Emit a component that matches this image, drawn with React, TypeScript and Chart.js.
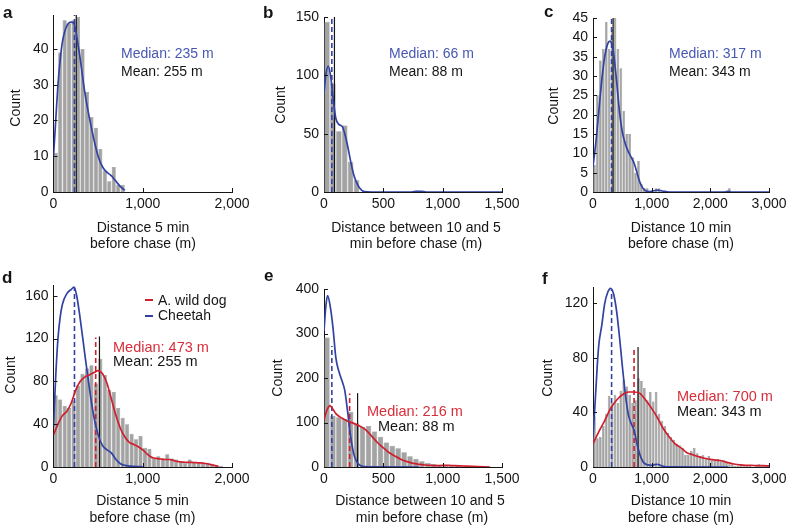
import React, { useEffect, useRef } from 'react';
import { Chart, registerables } from 'chart.js';

Chart.register(...registerables);

const FONT = "'Liberation Sans', Arial, Helvetica, sans-serif";
Chart.defaults.font.family = FONT;
Chart.defaults.color = '#1a1a1a';

const BIN = 50;

// ---------- Panel a (cheetah, 5 min) ----------
const aCounts = [11, 39, 48, 47, 48, 49, 40, 28, 21, 18, 12, 6, 3, 7, 2, 2];
const aCheetahX = [0, 25, 50, 75, 100, 150, 200, 225, 250, 300, 350, 400, 450, 500, 550, 600, 650, 700, 750, 800];
const aCheetahY = [10, 20, 30, 37, 42, 46.5, 47.5, 47.3, 45, 37, 28, 21, 15, 10, 7, 5.5, 4.5, 3, 1.5, 0.5];
const aXTicks = [0, 1000, 2000];
const aYTicks = [0, 10, 20, 30, 40];

// ---------- Panel b (cheetah, 10-5 min) ----------
const bCounts = [146, 93, 52, 57, 26, 10, 0, 0, 0, 0, 0, 0, 0, 0, 0, 1];
const bCheetahX = [0, 15, 35, 55, 78, 100, 125, 155, 180, 200, 225, 250, 275, 300, 340, 400, 740, 780, 820, 860, 1500];
const bCheetahY = [85, 100, 108, 100, 79, 63, 58, 56, 48, 39, 26, 15, 8, 3.5, 0.3, 0, 0, 0.6, 0.6, 0, 0];
const bXTicks = [0, 500, 1000, 1500];
const bYTicks = [0, 50, 100, 150];

// ---------- Panel c (cheetah, 10 min) ----------
const cCounts = [
  7, 25, 34, 37, 44, 37, 42, 45, 37, 32,
  21, 15, 15, 9, 5, 8, 2, 1, 1, 0,
  0, 1, 1, 0, 0, 0, 0, 0, 0, 0,
  0, 0, 0, 0, 0, 0, 0, 0, 0, 0,
  0, 0, 0, 0, 0, 0, 1, 0, 0, 0,
  0, 0, 0, 0, 0, 0, 0, 0, 0, 0,
];
const cCheetahX = [0, 50, 100, 150, 200, 250, 290, 325, 350, 400, 450, 500, 550, 600, 650, 700, 750, 800, 850, 900, 950, 1000, 1100, 1200, 1300, 2250, 2300, 2350, 3000];
const cCheetahY = [6.5, 13, 21, 29, 35, 38.3, 39, 38, 36, 29, 21, 15.5, 12.5, 10.5, 9, 7.5, 5, 2.5, 1, 0.3, 0.1, 0.2, 0.5, 0.2, 0, 0, 0.2, 0, 0];
const cXTicks = [0, 1000, 2000, 3000];
const cYTicks = [0, 5, 10, 15, 20, 25, 30, 35, 40, 45];

// ---------- Panel d (wild dog vs cheetah, 5 min) ----------
const dCounts = [
  67, 63, 57, 55, 62, 76, 87, 92, 95, 78,
  101, 86, 72, 70, 55, 46, 40, 31, 26, 29,
  18, 17, 8, 10, 7, 12, 8, 7, 5, 4,
  7, 4, 4, 3, 4, 3, 2, 1, 0, 0,
];
const dCheetahX = [0, 25, 50, 75, 100, 150, 200, 230, 260, 300, 350, 400, 450, 500, 550, 600, 650, 700, 750, 800, 900, 1000];
const dCheetahY = [38, 85, 120, 140, 152, 162, 166, 168, 160, 138, 106, 75, 48, 30, 20, 16, 13, 7, 3, 1.5, 0.5, 0.2];
const dDogX = [0, 50, 100, 150, 200, 250, 300, 350, 400, 450, 500, 550, 600, 650, 700, 750, 800, 850, 900, 950, 1000, 1050, 1100, 1150, 1200, 1250, 1300, 1350, 1400, 1450, 1500, 1550, 1600, 1650, 1700, 1750, 1800, 1850];
const dDogY = [30, 40, 48, 52, 60, 72, 80, 84, 86, 88, 90, 87, 78, 63, 48, 36, 28, 23, 21, 19, 16, 12, 9, 8, 7.5, 7, 7, 6, 5, 4.5, 4.4, 4.3, 4, 3.8, 3.3, 2.5, 1.5, 0.5];
const dXTicks = [0, 1000, 2000];
const dYTicks = [0, 40, 80, 120, 160];

// ---------- Panel e (wild dog vs cheetah, 10-5 min) ----------
const eCounts = [
  291, 115, 112, 108, 124, 98, 90, 92, 80, 68,
  55, 48, 42, 33, 24, 18, 13, 9, 7, 5,
  3, 3, 5, 3, 1, 1, 0, 0, 0, 0,
];
const eCheetahX = [0, 15, 30, 50, 75, 100, 125, 150, 175, 200, 225, 250, 275, 300, 325, 350, 400, 800];
const eCheetahY = [305, 360, 385, 365, 315, 245, 215, 195, 172, 122, 68, 30, 12, 4.5, 1.5, 0.7, 0.2, 0];
const eDogX = [0, 25, 50, 75, 100, 150, 200, 250, 300, 350, 400, 450, 500, 550, 600, 650, 700, 750, 800, 850, 900, 950, 1000, 1050, 1100, 1150, 1200, 1300, 1400];
const eDogY = [106, 128, 138, 130, 120, 110, 103, 98, 92, 84, 70, 55, 43, 32, 24, 17, 12, 8, 6, 4.5, 3.5, 3, 3.5, 3.7, 3, 2.5, 2, 1, 0];
const eXTicks = [0, 500, 1000, 1500];
const eYTicks = [0, 100, 200, 300, 400];

// ---------- Panel f (wild dog vs cheetah, 10 min) ----------
const fCounts = [
  37, 21, 22, 30, 39, 52, 47, 53, 47, 56,
  64, 59, 53, 47, 49, 65, 63, 58, 49, 55,
  48, 55, 39, 34, 30, 25, 22, 20, 17, 16,
  14, 9, 9, 12, 14, 10, 8, 9, 6, 8,
  5, 5, 6, 4, 5, 3, 2, 2, 1, 1,
  2, 1, 1, 1, 0, 1, 2, 1, 1, 1,
];
const fCheetahX = [0, 40, 75, 100, 150, 200, 250, 300, 350, 400, 450, 500, 550, 600, 650, 700, 750, 800, 850, 900, 950, 1000, 1050, 1100, 1150, 1200, 1300, 2300];
const fCheetahY = [22, 50, 76, 90, 104, 120, 128, 131, 127, 115, 96, 74, 54, 39, 32, 27, 17, 9, 4, 2, 1.5, 1.2, 1.7, 2, 1.2, 0.5, 0.1, 0];
const fDogX = [0, 100, 200, 300, 400, 500, 600, 700, 800, 900, 1000, 1100, 1200, 1300, 1400, 1500, 1600, 1700, 1800, 1900, 2000, 2100, 2200, 2300, 2400, 2500, 2600, 2700, 2800, 2900, 3000];
const fDogY = [17, 26, 34, 43, 49, 53, 55, 55, 54, 49, 43, 36, 28, 22, 17, 14, 10.5, 9, 7.6, 6.4, 5.6, 5, 4.4, 3.2, 2.2, 1.5, 1.2, 1.2, 1, 1, 0.8];
const fXTicks = [0, 1000, 2000, 3000];
const fYTicks = [0, 40, 80, 120];

// ---------- Summary statistics ----------
const cheetahMedian = [235, 66, 317];
const cheetahMean = [255, 88, 343];
const dogMedian = [473, 216, 700];
const dogMeanLine = [515, 283, 768];
const cheetahMedianTop = [168, 272, 130];
const dogMedianTop = [121, 165, 88];
const dogMeanTop = [122, 166, 88];

// ---------- styles ----------
const BLUE = '#3242a2';
const BLUE_TEXT = '#4757b2';
const RED = '#cf1f2e';
const RED_TEXT = '#d62f3b';
const BLACK = '#151515';
const BAR_FILL = '#a3a3a3';
const BAR_EDGE = '#7c7c7c';

const fmt = (v: number) => Number(v).toLocaleString('en-US');

type Curve = { x: number[]; y: number[]; color: string };
type VLine = { x: number; top: number; color: string; dash: boolean };
type Spec = {
  area: [number, number, number, number]; // left, right, top, bottom
  xMax: number; yMax: number; xTicks: number[]; yTicks: number[];
  counts: number[]; curves: Curve[]; vlines: VLine[];
};

const panels: Spec[] = [
  {
    area: [53.5, 232, 15, 192], xMax: 2000, yMax: 49.5, xTicks: aXTicks, yTicks: aYTicks, counts: aCounts,
    curves: [{ x: aCheetahX, y: aCheetahY, color: BLUE }],
    vlines: [
      { x: cheetahMean[0], top: 49.5, color: BLACK, dash: false },
      { x: cheetahMedian[0], top: 49.5, color: BLUE, dash: true },
    ],
  },
  {
    area: [324, 502, 17, 192], xMax: 1500, yMax: 150, xTicks: bXTicks, yTicks: bYTicks, counts: bCounts,
    curves: [{ x: bCheetahX, y: bCheetahY, color: BLUE }],
    vlines: [
      { x: cheetahMean[1], top: 150, color: BLACK, dash: false },
      { x: cheetahMedian[1], top: 150, color: BLUE, dash: true },
    ],
  },
  {
    area: [593, 769, 18, 192], xMax: 3000, yMax: 45, xTicks: cXTicks, yTicks: cYTicks, counts: cCounts,
    curves: [{ x: cCheetahX, y: cCheetahY, color: BLUE }],
    vlines: [
      { x: cheetahMean[2], top: 45, color: BLACK, dash: false },
      { x: cheetahMedian[2], top: 45, color: BLUE, dash: true },
    ],
  },
  {
    area: [53.5, 232, 285, 467], xMax: 2000, yMax: 170, xTicks: dXTicks, yTicks: dYTicks, counts: dCounts,
    curves: [
      { x: dDogX, y: dDogY, color: RED },
      { x: dCheetahX, y: dCheetahY, color: BLUE },
    ],
    vlines: [
      { x: dogMeanLine[0], top: dogMeanTop[0], color: BLACK, dash: false },
      { x: dogMedian[0], top: dogMedianTop[0], color: RED, dash: true },
      { x: cheetahMedian[0], top: cheetahMedianTop[0], color: BLUE, dash: true },
    ],
  },
  {
    area: [324, 502, 289, 467], xMax: 1500, yMax: 400, xTicks: eXTicks, yTicks: eYTicks, counts: eCounts,
    curves: [
      { x: eDogX, y: eDogY, color: RED },
      { x: eCheetahX, y: eCheetahY, color: BLUE },
    ],
    vlines: [
      { x: dogMeanLine[1], top: dogMeanTop[1], color: BLACK, dash: false },
      { x: dogMedian[1], top: dogMedianTop[1], color: RED, dash: true },
      { x: cheetahMedian[1], top: cheetahMedianTop[1], color: BLUE, dash: true },
    ],
  },
  {
    area: [593, 769, 287, 467], xMax: 3000, yMax: 132, xTicks: fXTicks, yTicks: fYTicks, counts: fCounts,
    curves: [
      { x: fDogX, y: fDogY, color: RED },
      { x: fCheetahX, y: fCheetahY, color: BLUE },
    ],
    vlines: [
      { x: dogMeanLine[2], top: dogMeanTop[2], color: BLACK, dash: false },
      { x: dogMedian[2], top: dogMedianTop[2], color: RED, dash: true },
      { x: cheetahMedian[2], top: cheetahMedianTop[2], color: BLUE, dash: true },
    ],
  },
];

const W = 788;
const H = 525;
const Y_BOX = 40;
const X_BOX = 30;

const inwardTicks = {
  id: 'inwardTicks',
  afterDatasetsDraw(chart: any) {
    const { ctx, chartArea } = chart;
    const xs = chart.scales.x;
    const ys = chart.scales.y;
    ctx.save();
    ctx.strokeStyle = BLACK;
    ctx.lineWidth = 1;
    xs.ticks.forEach((t: any) => {
      if (t.value === 0) return;
      const px = Math.round(xs.getPixelForValue(t.value)) + 0.5;
      ctx.beginPath();
      ctx.moveTo(px, chartArea.bottom);
      ctx.lineTo(px, chartArea.bottom - 4);
      ctx.stroke();
    });
    ys.ticks.forEach((t: any) => {
      if (t.value === 0) return;
      const py = Math.round(ys.getPixelForValue(t.value)) + 0.5;
      ctx.beginPath();
      ctx.moveTo(chartArea.left, py);
      ctx.lineTo(chartArea.left + 4, py);
      ctx.stroke();
    });
    ctx.restore();
  },
};

function buildConfig(s: Spec): any {
  const [left, right, top, bottom] = s.area;
  const datasets: any[] = [];
  datasets.push({
    type: 'bar',
    data: s.counts.map((c, i) => ({ x: i * BIN + BIN / 2, y: c })),
    backgroundColor: BAR_FILL,
    borderColor: BAR_EDGE,
    borderWidth: 0.5,
    barPercentage: 0.9,
    categoryPercentage: 1,
    order: 3,
  });
  s.vlines.forEach((v) => {
    datasets.push({
      type: 'line',
      data: [{ x: v.x, y: 0 }, { x: v.x, y: v.top }],
      borderColor: v.color,
      borderWidth: v.dash ? 1.6 : 1.2,
      borderDash: v.dash ? [5, 3] : [],
      pointRadius: 0,
      fill: false,
      order: 2,
    });
  });
  s.curves.forEach((c) => {
    datasets.push({
      type: 'line',
      data: c.x.map((x, i) => ({ x, y: c.y[i] })),
      borderColor: c.color,
      borderWidth: 1.7,
      pointRadius: 0,
      fill: false,
      cubicInterpolationMode: 'monotone',
      order: 1,
    });
  });
  const tickFont = { size: 14, family: FONT };
  return {
    type: 'bar',
    data: { datasets },
    plugins: [inwardTicks],
    options: {
      responsive: false,
      maintainAspectRatio: false,
      animation: false,
      events: [],
      layout: {
        autoPadding: false,
        padding: { left: left - Y_BOX, right: W - right, top, bottom: H - bottom - X_BOX },
      },
      plugins: { legend: { display: false }, tooltip: { enabled: false }, title: { display: false } },
      scales: {
        x: {
          type: 'linear', min: 0, max: s.xMax, offset: false,
          grid: { display: false, drawTicks: false },
          border: { display: true, color: BLACK, width: 1 },
          ticks: {
            autoSkip: false, maxRotation: 0, minRotation: 0,
            padding: 4, color: BLACK, font: tickFont,
            callback: (v: any) => fmt(v),
          },
          afterBuildTicks: (sc: any) => { sc.ticks = s.xTicks.map((v) => ({ value: v })); },
          afterFit: (sc: any) => { sc.height = X_BOX; sc.paddingLeft = 0; sc.paddingRight = 0; },
        },
        y: {
          type: 'linear', min: 0, max: s.yMax,
          grid: { display: false, drawTicks: false },
          border: { display: true, color: BLACK, width: 1 },
          ticks: {
            autoSkip: false, padding: 5, color: BLACK, font: tickFont,
            callback: (v: any) => fmt(v),
          },
          afterBuildTicks: (sc: any) => { sc.ticks = s.yTicks.map((v) => ({ value: v })); },
          afterFit: (sc: any) => { sc.width = Y_BOX; sc.paddingTop = 0; sc.paddingBottom = 0; },
        },
      },
    },
  };
}

function Panel({ spec }: { spec: Spec }) {
  const ref = useRef<HTMLCanvasElement>(null);
  useEffect(() => {
    const chart = new Chart(ref.current as HTMLCanvasElement, buildConfig(spec));
    return () => chart.destroy();
  }, [spec]);
  return (
    <canvas
      ref={ref}
      width={W}
      height={H}
      style={{ position: 'absolute', left: 0, top: 0, width: W, height: H }}
    />
  );
}

type TProps = { x: number; base: number; text: string; color?: string; size?: number; bold?: boolean; center?: boolean };
function T({ x, base, text, color = BLACK, size = 14, bold = false, center = false }: TProps) {
  return (
    <div
      style={{
        position: 'absolute', left: x, top: base - 0.8465 * size,
        fontFamily: FONT, fontSize: size, lineHeight: `${size}px`, color,
        fontWeight: bold ? 'bold' : 'normal', whiteSpace: 'nowrap',
        transform: center ? 'translateX(-50%)' : undefined,
      }}
    >
      {text}
    </div>
  );
}

function Count({ cx, cy }: { cx: number; cy: number }) {
  return (
    <div
      style={{
        position: 'absolute', left: cx, top: cy, fontFamily: FONT, fontSize: 14,
        lineHeight: '14px', color: BLACK, whiteSpace: 'nowrap',
        transform: 'translate(-50%, -50%) rotate(-90deg)',
      }}
    >
      Count
    </div>
  );
}

const panelLetters = ['a', 'b', 'c', 'd', 'e', 'f'];

export default function App() {
  return (
    <div style={{ position: 'absolute', left: 0, top: 0, width: W, height: H, overflow: 'hidden', background: '#fff' }}>
      {panels.map((p, i) => <Panel key={i} spec={p} />)}

      {/* panel letters */}
      <T x={3} base={18} text={panelLetters[0]} size={17} bold />
      <T x={263} base={18} text={panelLetters[1]} size={17} bold />
      <T x={544} base={17} text={panelLetters[2]} size={17} bold />
      <T x={2} base={283} text={panelLetters[3]} size={17} bold />
      <T x={264} base={281} text={panelLetters[4]} size={17} bold />
      <T x={542} base={284} text={panelLetters[5]} size={17} bold />

      {/* y titles */}
      <Count cx={15} cy={108} />
      <Count cx={280} cy={105} />
      <Count cx={553} cy={106} />
      <Count cx={10} cy={375} />
      <Count cx={277} cy={378} />
      <Count cx={547} cy={378} />

      {/* x titles */}
      <T x={143} base={231.5} text="Distance 5 min" center />
      <T x={143} base={247.5} text="before chase (m)" center />
      <T x={416} base={231.5} text="Distance between 10 and 5" center />
      <T x={416} base={247.5} text="min before chase (m)" center />
      <T x={681} base={231.5} text="Distance 10 min" center />
      <T x={681} base={247.5} text="before chase (m)" center />
      <T x={142.5} base={505} text="Distance 5 min" center />
      <T x={142.5} base={521.5} text="before chase (m)" center />
      <T x={420} base={505} text="Distance between 10 and 5" center />
      <T x={422} base={521.5} text="min before chase (m)" center />
      <T x={681} base={505} text="Distance 10 min" center />
      <T x={681} base={521.5} text="before chase (m)" center />

      {/* annotations */}
      <T x={121} base={57.5} text={`Median: ${cheetahMedian[0]} m`} color={BLUE_TEXT} />
      <T x={121} base={75.5} text={`Mean: ${cheetahMean[0]} m`} />
      <T x={389} base={57.5} text={`Median: ${cheetahMedian[1]} m`} color={BLUE_TEXT} />
      <T x={389} base={75.5} text={`Mean: ${cheetahMean[1]} m`} />
      <T x={669} base={57.5} text={`Median: ${cheetahMedian[2]} m`} color={BLUE_TEXT} />
      <T x={669} base={75.5} text={`Mean: ${cheetahMean[2]} m`} />

      <T x={113} base={352.5} text={`Median: ${dogMedian[0]} m`} color={RED_TEXT} size={14.5} />
      <T x={113} base={366.5} text={`Mean: ${cheetahMean[0]} m`} size={14.5} />
      <T x={367} base={416.5} text={`Median: ${dogMedian[1]} m`} color={RED_TEXT} size={14.5} />
      <T x={378} base={431.5} text={`Mean: ${cheetahMean[1]} m`} size={14.5} />
      <T x={677} base={401.5} text={`Median: ${dogMedian[2]} m`} color={RED_TEXT} size={14.5} />
      <T x={677} base={416.5} text={`Mean: ${cheetahMean[2]} m`} size={14.5} />

      {/* legend in d */}
      <div style={{ position: 'absolute', left: 145, top: 299, width: 8, height: 2, background: RED }} />
      <T x={158} base={304.5} text="A. wild dog" />
      <div style={{ position: 'absolute', left: 145, top: 314.5, width: 8, height: 2, background: BLUE }} />
      <T x={158} base={320} text="Cheetah" />
    </div>
  );
}
